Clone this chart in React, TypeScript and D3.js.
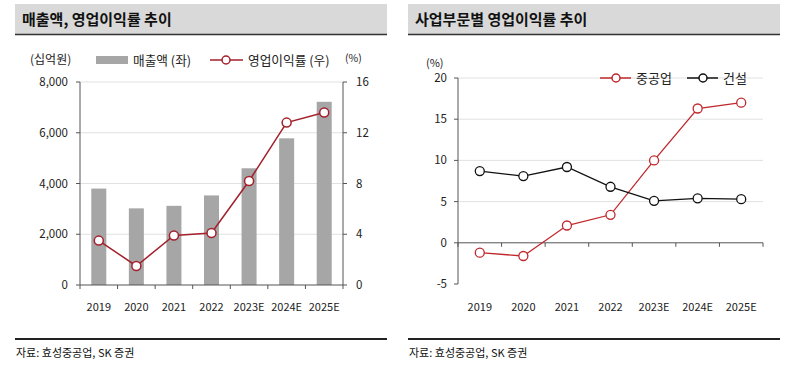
import { useEffect, useRef } from 'react';
import * as d3 from 'd3';

const years = ['2019', '2020', '2021', '2022', '2023E', '2024E', '2025E'];
const sales = [3800, 3020, 3120, 3530, 4600, 5780, 7220];
const opMargin = [3.5, 1.5, 3.9, 4.1, 8.2, 12.8, 13.6];
const heavyInd = [-1.2, -1.6, 2.1, 3.4, 10.0, 16.3, 17.0];
const construction = [8.7, 8.1, 9.2, 6.8, 5.1, 5.4, 5.3];

const leftTicks = [0, 2000, 4000, 6000, 8000];
const rightTicks = [0, 4, 8, 12, 16];
const segTicks = [-5, 0, 5, 10, 15, 20];

const FONT = '"Malgun Gothic", "Noto Sans CJK KR", Arial, sans-serif';

export default function App() {
  const svgRef = useRef<SVGSVGElement>(null);

  useEffect(() => {
    if (!svgRef.current) return;
    const svg = d3.select(svgRef.current);
    svg.selectAll('*').remove();
    svg.attr('font-family', FONT);

    // Panel headers and footers
    const panels = [
      { x0: 15, x1: 387, title: '매출액, 영업이익률 추이' },
      { x0: 408, x1: 780, title: '사업부문별 영업이익률 추이' },
    ];
    panels.forEach((p) => {
      svg.append('rect').attr('x', p.x0).attr('y', 4).attr('width', p.x1 - p.x0).attr('height', 30).attr('fill', '#d9d9d9');
      svg.append('line').attr('x1', p.x0).attr('x2', p.x1).attr('y1', 34.5).attr('y2', 34.5).attr('stroke', '#333').attr('stroke-width', 1.5);
      svg.append('text').attr('x', p.x0 + 7).attr('y', 25).attr('font-size', 15).attr('font-weight', 'bold').attr('fill', '#111').text(p.title);
      svg.append('line').attr('x1', p.x0).attr('x2', p.x1).attr('y1', 339).attr('y2', 339).attr('stroke', '#222').attr('stroke-width', 2);
      svg.append('text').attr('x', p.x0 + 1).attr('y', 357).attr('font-size', 11).attr('fill', '#111').text('자료: 효성중공업, SK 증권');
    });

    // ---------- Left chart ----------
    const L = { left: 80, right: 343, top: 82, bottom: 285 };
    const x = d3.scaleBand().domain(years).range([L.left, L.right]);
    const yL = d3.scaleLinear().domain([0, 8000]).range([L.bottom, L.top]);
    const yR = d3.scaleLinear().domain([0, 16]).range([L.bottom, L.top]);
    const gl = svg.append('g');

    gl.selectAll('.grid').data(leftTicks.slice(1)).enter().append('line')
      .attr('x1', L.left).attr('x2', L.right)
      .attr('y1', (d) => yL(d)).attr('y2', (d) => yL(d))
      .attr('stroke', '#d9d9d9').attr('stroke-width', 0.8);

    const bw = 15;
    gl.selectAll('.bar').data(sales).enter().append('rect')
      .attr('x', (d, i) => (x(years[i]) || 0) + x.bandwidth() / 2 - bw / 2)
      .attr('y', (d) => yL(d))
      .attr('width', bw)
      .attr('height', (d) => L.bottom - yL(d))
      .attr('fill', '#a6a6a6');

    // axes
    gl.append('line').attr('x1', L.left).attr('x2', L.left).attr('y1', L.top).attr('y2', L.bottom).attr('stroke', '#555');
    gl.append('line').attr('x1', L.right).attr('x2', L.right).attr('y1', L.top).attr('y2', L.bottom).attr('stroke', '#555');
    gl.append('line').attr('x1', L.left).attr('x2', L.right).attr('y1', L.bottom).attr('y2', L.bottom).attr('stroke', '#555');
    leftTicks.forEach((t) => {
      gl.append('line').attr('x1', L.left - 4).attr('x2', L.left).attr('y1', yL(t)).attr('y2', yL(t)).attr('stroke', '#555');
      gl.append('text').attr('x', 68).attr('y', yL(t) + 4).attr('text-anchor', 'end').attr('font-size', 11.5).attr('fill', '#222').text(d3.format(',')(t));
    });
    rightTicks.forEach((t) => {
      gl.append('line').attr('x1', L.right).attr('x2', L.right + 4).attr('y1', yR(t)).attr('y2', yR(t)).attr('stroke', '#555');
      gl.append('text').attr('x', 356).attr('y', yR(t) + 4).attr('font-size', 11.5).attr('fill', '#222').text(t);
    });
    years.forEach((yr, i) => {
      const bx = x(yr) || 0;
      gl.append('line').attr('x1', bx).attr('x2', bx).attr('y1', L.bottom).attr('y2', L.bottom + 4).attr('stroke', '#555');
      if (i === years.length - 1) gl.append('line').attr('x1', bx + x.bandwidth()).attr('x2', bx + x.bandwidth()).attr('y1', L.bottom).attr('y2', L.bottom + 4).attr('stroke', '#555');
      gl.append('text').attr('x', bx + x.bandwidth() / 2).attr('y', 311).attr('text-anchor', 'middle').attr('font-size', 11).attr('fill', '#222').text(yr);
    });

    const lineL = d3.line<number>().x((d, i) => (x(years[i]) || 0) + x.bandwidth() / 2).y((d) => yR(d));
    gl.append('path').datum(opMargin).attr('d', lineL).attr('fill', 'none').attr('stroke', '#a3202c').attr('stroke-width', 1.5);
    gl.selectAll('.pt').data(opMargin).enter().append('circle')
      .attr('cx', (d, i) => (x(years[i]) || 0) + x.bandwidth() / 2)
      .attr('cy', (d) => yR(d)).attr('r', 4.5)
      .attr('fill', '#fff').attr('stroke', '#a3202c').attr('stroke-width', 1.5);

    // legend
    gl.append('text').attr('x', 30).attr('y', 64).attr('font-size', 12).attr('fill', '#222').text('(십억원)');
    gl.append('rect').attr('x', 96).attr('y', 56).attr('width', 32).attr('height', 8).attr('fill', '#a6a6a6');
    gl.append('text').attr('x', 133).attr('y', 64.5).attr('font-size', 12.7).attr('fill', '#222').text('매출액 (좌)');
    gl.append('line').attr('x1', 210).attr('x2', 243).attr('y1', 60).attr('y2', 60).attr('stroke', '#a3202c').attr('stroke-width', 1.5);
    gl.append('circle').attr('cx', 226).attr('cy', 60).attr('r', 4).attr('fill', '#fff').attr('stroke', '#a3202c').attr('stroke-width', 1.5);
    gl.append('text').attr('x', 248).attr('y', 64.5).attr('font-size', 12.7).attr('fill', '#222').text('영업이익률 (우)');
    gl.append('text').attr('x', 345).attr('y', 62).attr('font-size', 10.5).attr('fill', '#222').text('(%)');

    // ---------- Right chart ----------
    const R = { left: 458, right: 763, top: 78, bottom: 284 };
    const x2 = d3.scaleBand().domain(years).range([R.left, R.right]);
    const y2 = d3.scaleLinear().domain([-5, 20]).range([R.bottom, R.top]);
    const gr = svg.append('g');

    segTicks.filter((t) => t > 0).forEach((t) => {
      gr.append('line').attr('x1', R.left).attr('x2', R.right).attr('y1', y2(t)).attr('y2', y2(t)).attr('stroke', '#d9d9d9').attr('stroke-width', 0.8);
    });
    gr.append('line').attr('x1', R.left).attr('x2', R.left).attr('y1', R.top).attr('y2', R.bottom).attr('stroke', '#555');
    gr.append('line').attr('x1', R.left).attr('x2', R.right).attr('y1', y2(0)).attr('y2', y2(0)).attr('stroke', '#555');
    segTicks.forEach((t) => {
      gr.append('line').attr('x1', R.left - 4).attr('x2', R.left).attr('y1', y2(t)).attr('y2', y2(t)).attr('stroke', '#555');
      gr.append('text').attr('x', 447).attr('y', y2(t) + 4).attr('text-anchor', 'end').attr('font-size', 11.5).attr('fill', '#222').text(t);
    });
    years.forEach((yr, i) => {
      const bx = x2(yr) || 0;
      gr.append('line').attr('x1', bx).attr('x2', bx).attr('y1', y2(0)).attr('y2', y2(0) + 4).attr('stroke', '#555');
      if (i === years.length - 1) gr.append('line').attr('x1', bx + x2.bandwidth()).attr('x2', bx + x2.bandwidth()).attr('y1', y2(0)).attr('y2', y2(0) + 4).attr('stroke', '#555');
      gr.append('text').attr('x', bx + x2.bandwidth() / 2).attr('y', 311).attr('text-anchor', 'middle').attr('font-size', 11).attr('fill', '#222').text(yr);
    });

    const series = [
      { data: heavyInd, color: '#c0282d' },
      { data: construction, color: '#111' },
    ];
    series.forEach((s) => {
      const ln = d3.line<number>().x((d, i) => (x2(years[i]) || 0) + x2.bandwidth() / 2).y((d) => y2(d));
      gr.append('path').datum(s.data).attr('d', ln).attr('fill', 'none').attr('stroke', s.color).attr('stroke-width', 1.3);
      gr.selectAll(null).data(s.data).enter().append('circle')
        .attr('cx', (d, i) => (x2(years[i]) || 0) + x2.bandwidth() / 2)
        .attr('cy', (d) => y2(d)).attr('r', 4.5)
        .attr('fill', '#fff').attr('stroke', s.color).attr('stroke-width', 1.3);
    });

    gr.append('text').attr('x', 426).attr('y', 67).attr('font-size', 11).attr('fill', '#222').text('(%)');
    const leg = [
      { label: '중공업', color: '#c0282d', x: 600 },
      { label: '건설', color: '#111', x: 687 },
    ];
    leg.forEach((l) => {
      gr.append('line').attr('x1', l.x).attr('x2', l.x + 31).attr('y1', 78).attr('y2', 78).attr('stroke', l.color).attr('stroke-width', 1.5);
      gr.append('circle').attr('cx', l.x + 16).attr('cy', 78).attr('r', 4).attr('fill', '#fff').attr('stroke', l.color).attr('stroke-width', 1.5);
      gr.append('text').attr('x', l.x + 36).attr('y', 83).attr('font-size', 13).attr('fill', '#222').text(l.label);
    });
  }, []);

  return (
    <svg ref={svgRef} width={794} height={373} style={{ position: 'absolute', left: 0, top: 0, background: '#fff' }} />
  );
}
